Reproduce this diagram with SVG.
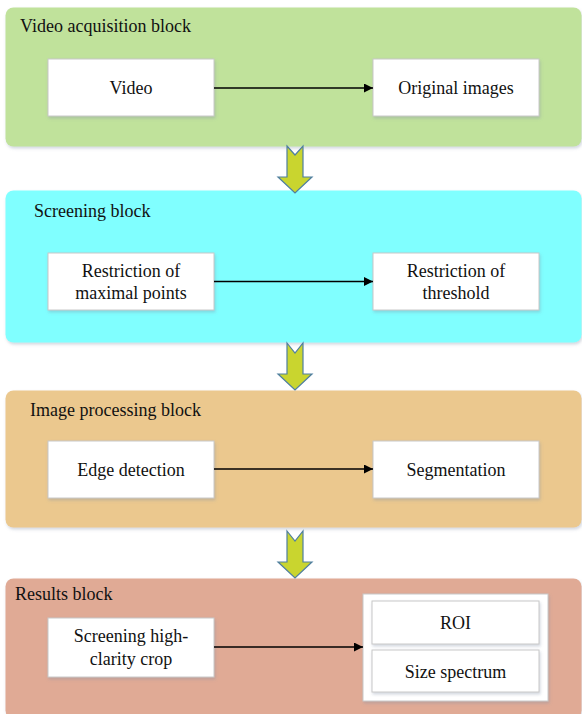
<svg xmlns="http://www.w3.org/2000/svg" width="582" height="714" viewBox="0 0 582 714">
<defs>
<filter id="sh" x="-5%" y="-5%" width="110%" height="115%">
<feDropShadow dx="1" dy="2" stdDeviation="1.5" flood-color="#7f8fa6" flood-opacity="0.35"/>
</filter>
<marker id="ah" viewBox="0 0 10 10" refX="10" refY="5" markerWidth="9" markerHeight="9" markerUnits="userSpaceOnUse" orient="auto">
<path d="M0,0 L10,5 L0,10 Z" fill="#000"/>
</marker>
</defs>
<style>
.blk{filter:url(#sh);}
.box{fill:#fff;stroke:#c8c8c8;stroke-width:1;filter:url(#sh);}
.t{font-family:"Liberation Serif","Times New Roman",serif;font-size:18px;fill:#111;}
.c{text-anchor:middle;}
.con{stroke:#000;stroke-width:1.3;fill:none;marker-end:url(#ah);}
.barrow{fill:#c9d52f;stroke:#4f7fa0;stroke-width:1.2;stroke-linejoin:miter;}
</style>

<g id="block-video">
<rect class="blk" x="5.5" y="7.5" width="576" height="139" rx="8" fill="#c0e29b"/>
<text class="t" x="20" y="32">Video acquisition block</text>
</g>
<g id="node-video">
<rect class="box" x="48" y="59" width="166" height="57"/>
<text class="t c" x="131" y="94">Video</text>
</g>
<g id="node-original">
<rect class="box" x="373" y="59" width="166" height="57"/>
<text class="t c" x="456" y="94">Original images</text>
</g>

<g id="block-screening">
<rect class="blk" x="5.5" y="190.5" width="576" height="152" rx="8" fill="#80ffff"/>
<text class="t" x="34" y="217">Screening block</text>
</g>
<g id="node-maximal">
<rect class="box" x="48" y="253" width="166" height="57"/>
<text class="t c" x="131" y="276.5">Restriction of</text>
<text class="t c" x="131" y="299">maximal points</text>
</g>
<g id="node-threshold">
<rect class="box" x="373" y="253" width="166" height="57"/>
<text class="t c" x="456" y="276.5">Restriction of</text>
<text class="t c" x="456" y="299">threshold</text>
</g>

<g id="block-processing">
<rect class="blk" x="5.5" y="390.5" width="576" height="137" rx="8" fill="#ebc88e"/>
<text class="t" x="30" y="415.5">Image processing block</text>
</g>
<g id="node-edge">
<rect class="box" x="48" y="441" width="166" height="57"/>
<text class="t c" x="131" y="475.5">Edge detection</text>
</g>
<g id="node-segmentation">
<rect class="box" x="373" y="441" width="166" height="57"/>
<text class="t c" x="456" y="475.5">Segmentation</text>
</g>

<g id="block-results">
<rect class="blk" x="5.5" y="578.5" width="576" height="140" rx="8" fill="#e0aa95"/>
<text class="t" x="15" y="600">Results block</text>
</g>
<g id="node-crop">
<rect class="box" x="48" y="618" width="166" height="59"/>
<text class="t c" x="131" y="642">Screening high-</text>
<text class="t c" x="131" y="664.5">clarity crop</text>
</g>
<g id="node-outputs">
<rect class="box" x="363" y="594" width="185" height="107"/>
<rect class="box" x="372" y="601" width="167" height="43"/>
<text class="t c" x="455.5" y="629">ROI</text>
<rect class="box" x="372" y="650" width="167" height="42"/>
<text class="t c" x="455.5" y="678">Size spectrum</text>
</g>

<g id="connectors">
<line class="con" x1="214" y1="88" x2="373" y2="88"/>
<line class="con" x1="214" y1="281.5" x2="373" y2="281.5"/>
<line class="con" x1="214" y1="469" x2="373" y2="469"/>
<line class="con" x1="214" y1="647" x2="363" y2="647"/>
<polygon class="barrow" points="287,146 295,155 303,146 303,177 312,177 295,193 278,177 287,177"/>
<polygon class="barrow" points="287,343 295,353 303,343 303,374 312,374 295,390 278,374 287,374"/>
<polygon class="barrow" points="287,531 295,541 303,531 303,562 312,562 295,578 278,562 287,562"/>
</g>
</svg>
